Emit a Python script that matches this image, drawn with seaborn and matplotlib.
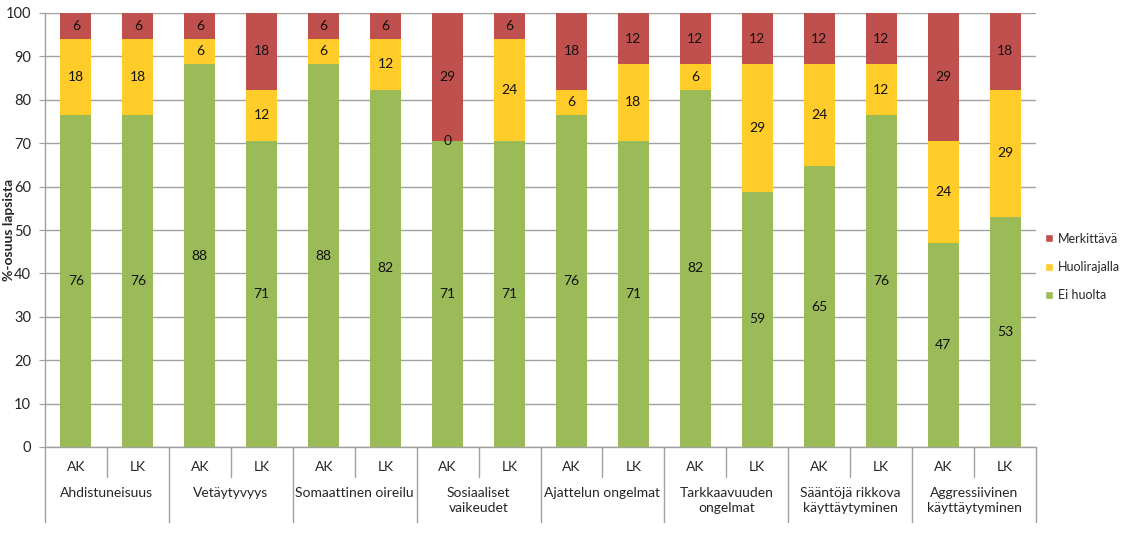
import numpy as np
import pandas as pd
import matplotlib
matplotlib.use("Agg")
import matplotlib.pyplot as plt
import seaborn as sns
from matplotlib.patches import Patch

# -----------------------------
# Data (percent of children)
# -----------------------------
categories = ["Ahdistuneisuus", "Vetäytyvyys", "Somaattinen oireilu",
              "Sosiaaliset\nvaikeudet", "Ajattelun ongelmat", "Tarkkaavuuden\nongelmat",
              "Sääntöjä rikkova\nkäyttäytyminen", "Aggressiivinen\nkäyttäytyminen"]
groups = ["AK", "LK"]

ei_huolta = [76.47, 76.47, 88.24, 70.59, 88.24, 82.35, 70.59, 70.59,
             76.47, 70.59, 82.35, 58.82, 64.71, 76.47, 47.06, 52.94]
huolirajalla = [17.65, 17.65, 5.88, 11.76, 5.88, 11.76, 0.0, 23.53,
                5.88, 17.65, 5.88, 29.41, 23.53, 11.76, 23.53, 29.41]
merkittava = [5.88, 5.88, 5.88, 17.65, 5.88, 5.88, 29.41, 5.88,
              17.65, 11.76, 11.76, 11.76, 11.76, 11.76, 29.41, 17.65]

series_names = ["Ei huolta", "Huolirajalla", "Merkittävä"]
colors = {"Ei huolta": "#9BBB59", "Huolirajalla": "#FFCC29", "Merkittävä": "#C0504D"}

# -----------------------------
# Build cumulative table
# -----------------------------
n = len(ei_huolta)
bar_ids = [str(i) for i in range(n)]
df = pd.DataFrame({
    "bar": bar_ids,
    "Ei huolta": ei_huolta,
    "Huolirajalla": huolirajalla,
    "Merkittävä": merkittava,
})
df["cum1"] = df["Ei huolta"]
df["cum2"] = df["cum1"] + df["Huolirajalla"]
df["cum3"] = df["cum2"] + df["Merkittävä"]

sns.set_style("white")
plt.rcParams["font.family"] = ["Lato", "DejaVu Sans"]

fig = plt.figure(figsize=(11.22, 5.33), dpi=100)
ax = fig.add_axes([45 / 1122, 1 - 447 / 533, (1036 - 45) / 1122, (447 - 13) / 533])

# stacked bars: draw tallest first
for cum_col, name in [("cum3", "Merkittävä"), ("cum2", "Huolirajalla"), ("cum1", "Ei huolta")]:
    sns.barplot(data=df, x="bar", y=cum_col, order=bar_ids, color=colors[name],
                saturation=1, width=0.5, ax=ax, zorder=3, linewidth=0)

# value labels
bottoms = np.zeros(n)
for name in series_names:
    vals = np.array(df[name])
    for i in range(n):
        ax.text(i, bottoms[i] + vals[i] / 2, f"{vals[i]:.0f}", ha="center", va="center",
                fontsize=10, color="#111111", zorder=5)
    bottoms = bottoms + vals

ax.set_ylim(0, 100)
ax.set_xlim(-0.5, n - 0.5)
ax.set_yticks(np.arange(0, 101, 10))
ax.yaxis.grid(True, color="#A0A0A0", linewidth=1)
ax.set_axisbelow(True)
ax.tick_params(axis="y", labelsize=10.5, length=4, color="#A0A0A0", left=True, pad=6)
ax.tick_params(axis="x", bottom=False, labelbottom=False)
for side in ["top", "right"]:
    ax.spines[side].set_visible(False)
for side in ["left", "bottom"]:
    ax.spines[side].set_color("#A0A0A0")
    ax.spines[side].set_linewidth(1)
ax.set_xlabel("")
ax.set_ylabel("")
fig.text(9 / 1122, 1 - 230 / 533, "%-osuus lapsista", rotation=90, ha="center", va="center",
         fontsize=10, fontweight="bold")

# two-level category axis
trans = ax.get_xaxis_transform()
axh = 447 - 13
y_short = -(477 - 447) / axh
y_long = -(522 - 447) / axh
y_grp = -(467 - 447) / axh
y_cat = -(487 - 447) / axh
for i in range(n):
    ax.text(i, y_grp, groups[i % 2], ha="center", va="center", fontsize=10, transform=trans)
for c in range(len(categories) + 1):
    xb = 2 * c - 0.5
    ax.plot([xb, xb], [0, y_long], transform=trans, color="#A0A0A0", lw=1, clip_on=False)
for c in range(len(categories)):
    xm = 2 * c + 0.5
    ax.plot([xm, xm], [0, y_short], transform=trans, color="#A0A0A0", lw=1, clip_on=False)
    ax.text(xm, y_cat, categories[c], ha="center", va="top", fontsize=10,
            linespacing=1.3, transform=trans)

# legend
handles = [Patch(facecolor=colors[s], label=s) for s in reversed(series_names)]
fig.legend(handles=handles, loc="center left", bbox_to_anchor=(1045 / 1122, 1 - 267 / 533),
           frameon=False, fontsize=9, handlelength=0.6, handleheight=0.6,
           handletextpad=0.4, labelspacing=1.3, borderpad=0, borderaxespad=0)

fig.savefig("out.png", dpi=100)
